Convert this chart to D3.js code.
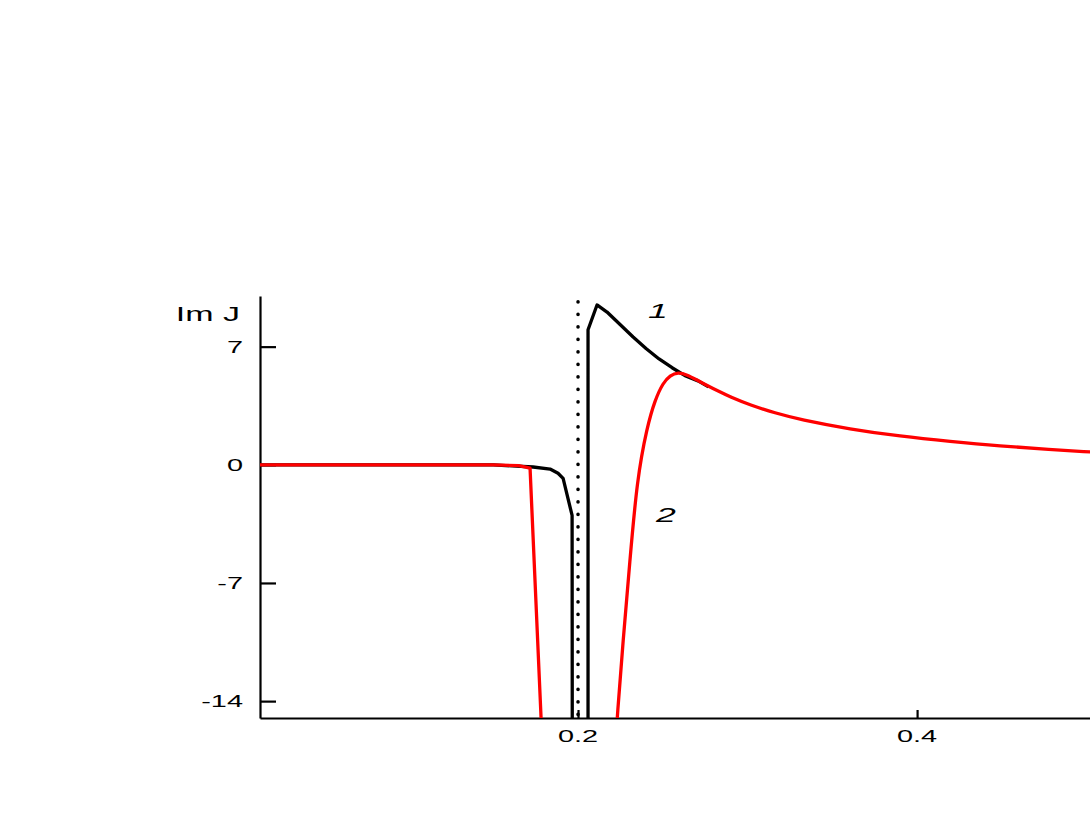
<!DOCTYPE html>
<html>
<head>
<meta charset="utf-8">
<script src="https://cdn.jsdelivr.net/npm/d3@7"></script>
<style>
  body { margin: 0; background: #fff; }
  text { font-family: "Liberation Sans", Arial, sans-serif; fill: #000; }
</style>
</head>
<body>
<div class="chart"></div>
<script>
// tick values
var xTicks = [0.2, 0.4];
var yTicks = [-14, -7, 0, 7];
var yLabel = "Im J";
var poleX = 0.2;

// curve 1 (black), left branch and right branch
var black1LeftX = [0.0124, 0.10, 0.15, 0.1735, 0.1835, 0.1882, 0.1912, 0.1965, 0.1966];
var black1LeftY = [0, 0, -0.01, -0.13, -0.25, -0.5, -0.8, -3.0, -16];
var black1RightX = [0.2059, 0.2059, 0.2112, 0.2171, 0.2248, 0.2325, 0.2401, 0.2478, 0.2555, 0.2631, 0.2708, 0.2770];
var black1RightY = [-16, 8.0, 9.47, 9.05, 8.31, 7.57, 6.89, 6.27, 5.75, 5.28, 4.97, 4.62];

// curve 2 (red), left branch and right branch
var red2LeftX = [0.0124, 0.10, 0.15, 0.165, 0.1717, 0.1782, 0.1790];
var red2LeftY = [0, 0, -0.01, -0.05, -0.2, -15, -16.5];
var red2RightX = [0.2224, 0.2230, 0.2266, 0.2305, 0.2348, 0.2407, 0.2454, 0.2501, 0.2543, 0.2590, 0.2643, 0.2702, 0.2761, 0.2826, 0.2897, 0.3015, 0.3162, 0.3310, 0.3605, 0.3900, 0.4195, 0.4490, 0.4785, 0.5021];
var red2RightY = [-16.5, -15, -10.4, -5.8, -0.85, 2.24, 3.84, 4.85, 5.30, 5.48, 5.34, 5.02, 4.70, 4.37, 4.02, 3.54, 3.07, 2.68, 2.11, 1.69, 1.38, 1.11, 0.91, 0.76];

// curve number labels (data coords)
var curveLabels = [
  { text: "1", x: 0.2413, y: 8.7 },
  { text: "2", x: 0.2460, y: -3.39 }
];

var svgWidth = 1090;
var svgHeight = 817;
var margin = { top: 296, right: 0, bottom: 99, left: 260 };
var width = svgWidth - margin.left - margin.right;
var height = svgHeight - margin.top - margin.bottom;
var stretch = 1.7;

var svg = d3.select(".chart")
  .append("svg")
  .attr("width", svgWidth)
  .attr("height", svgHeight);

var chartGroup = svg.append("g")
  .attr("transform", `translate(${margin.left}, ${margin.top})`);

var xScale = d3.scaleLinear().domain([0.0124, 0.502]).range([0, width]);
var yScale = d3.scaleLinear().domain([-15, 10]).range([height, 0]);

chartGroup.append("clipPath").attr("id", "plot")
  .append("rect").attr("x", 0).attr("y", 0).attr("width", width).attr("height", height);

// axes
var leftAxis = d3.axisLeft(yScale).tickValues(yTicks).tickSize(-16).tickSizeOuter(0).tickFormat("");
var bottomAxis = d3.axisBottom(xScale).tickValues(xTicks).tickSize(-8).tickSizeOuter(0).tickFormat("");

var yAxisG = chartGroup.append("g").call(leftAxis);
var xAxisG = chartGroup.append("g").attr("transform", `translate(0, ${height})`).call(bottomAxis);
[yAxisG, xAxisG].forEach(function(g) {
  g.selectAll("path, line").attr("stroke", "#000").attr("stroke-width", 2.2);
});

// tick labels (stretched horizontally like the reference)
chartGroup.selectAll(".ylab")
  .data(yTicks)
  .enter()
  .append("text")
  .attr("class", "ylab")
  .attr("text-anchor", "end")
  .attr("font-size", 17)
  .attr("transform", d => `translate(-17, ${yScale(d) + 6}) scale(${stretch}, 1)`)
  .text(d => d);

chartGroup.selectAll(".xlab")
  .data(xTicks)
  .enter()
  .append("text")
  .attr("class", "xlab")
  .attr("text-anchor", "middle")
  .attr("font-size", 17)
  .attr("transform", d => `translate(${xScale(d)}, ${height + 24}) scale(${stretch}, 1)`)
  .text(d => d);

chartGroup.append("text")
  .attr("text-anchor", "end")
  .attr("font-size", 20)
  .attr("transform", `translate(-20, 25) scale(${stretch}, 1)`)
  .text(yLabel);

// curves
var plot = chartGroup.append("g").attr("clip-path", "url(#plot)");

function pts(xs, ys) { return xs.map((v, i) => [v, ys[i]]); }

var lineLinear = d3.line().x(d => xScale(d[0])).y(d => yScale(d[1]));
var lineSmooth = d3.line().x(d => xScale(d[0])).y(d => yScale(d[1])).curve(d3.curveBasis);

// dotted pole line
plot.append("path")
  .attr("d", lineLinear([[poleX, 9.65], [poleX, -15.5]]))
  .attr("fill", "none")
  .attr("stroke", "#000")
  .attr("stroke-width", 3.6)
  .attr("stroke-linecap", "round")
  .attr("stroke-dasharray", "0,12.5");

[pts(black1LeftX, black1LeftY), pts(black1RightX, black1RightY)].forEach(function(p) {
  plot.append("path")
    .attr("d", lineLinear(p))
    .attr("fill", "none")
    .attr("stroke", "#000")
    .attr("stroke-width", 3.3)
    .attr("stroke-linejoin", "round");
});

plot.append("path")
  .attr("d", lineLinear(pts(red2LeftX, red2LeftY)))
  .attr("fill", "none")
  .attr("stroke", "#ff0000")
  .attr("stroke-width", 3.3)
  .attr("stroke-linejoin", "round");

plot.append("path")
  .attr("d", lineSmooth(pts(red2RightX, red2RightY)))
  .attr("fill", "none")
  .attr("stroke", "#ff0000")
  .attr("stroke-width", 3.3)
  .attr("stroke-linejoin", "round");

// curve numbers
chartGroup.selectAll(".clab")
  .data(curveLabels)
  .enter()
  .append("text")
  .attr("class", "clab")
  .attr("font-size", 21)
  .attr("font-style", "italic")
  .attr("transform", d => `translate(${xScale(d.x)}, ${yScale(d.y)}) scale(${stretch}, 1)`)
  .text(d => d.text);
</script>
</body>
</html>
